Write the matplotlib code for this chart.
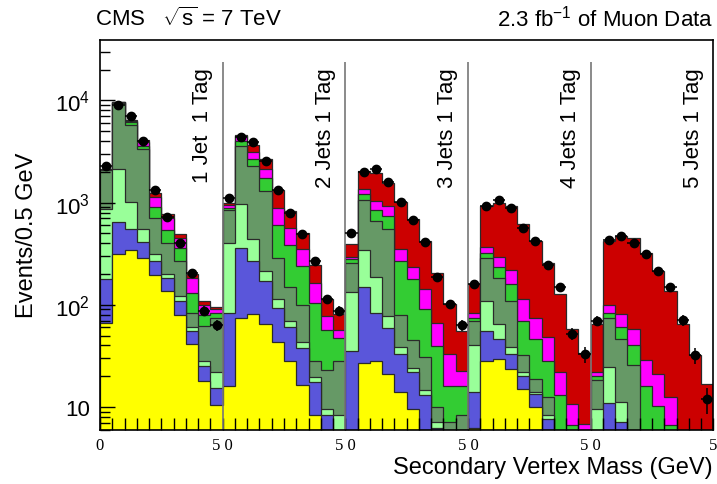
import numpy as np
import matplotlib
matplotlib.use('Agg')
import matplotlib.pyplot as plt
from matplotlib.ticker import FixedLocator, LogLocator, NullFormatter

plt.rcParams['font.family'] = 'Liberation Sans'
plt.rcParams['mathtext.fontset'] = 'custom'
plt.rcParams['mathtext.rm'] = 'Liberation Sans'
plt.rcParams['mathtext.it'] = 'Liberation Sans:italic'

# 5 jet multiplicity bins x 10 mass bins (0-5 GeV, 0.5 GeV wide), stacked bottom -> top
wqx = [67, 313, 344, 284, 195, 135, 79, 41, 18, 10.4,
       16, 75, 81, 65, 43, 28, 16.5, 8.3, 3, 2,
       3, 27, 28, 21, 14, 9.6, 3, 2, 1, 1,
       6.2, 28, 29.5, 23.6, 15, 10, 3, 1, 0.5, 0.5,
       1, 2, 1, 1, 0.5, 0.3, 0.2, 0.1, 0.1, 0.1]
qcd = [111, 332, 204, 131, 73, 48, 30, 15, 7, 4.9,
       68, 282, 187, 105, 50, 32, 21, 9.4, 5.3, 2,
       32, 121, 56, 38, 19, 12.3, 10, 4.3, 1, 1,
       7.8, 27, 16.5, 9.4, 5, 3.5, 4.7, 1, 0.5, 0.5,
       2, 9, 6.1, 1, 0.5, 0.5, 0.3, 0.2, 0.1, 0.1]
zjets = [681, 1464, 463, 133, 45, 17, 13, 4, 3, 6.6,
         316, 619, 169, 44, 21, 10, 5.4, 1.9, 1.3, 4.3,
         99, 194, 105, 19, 6, 2.1, 1.7, 0.8, 1, 1,
         26, 54, 19, 6, 2, 0.5, 0.7, 1, 0.5, 0.5,
         6.5, 13.5, 4.1, 2, 1, 0.5, 0.3, 0.2, 0.1, 0.1]
wcx = [1216, 7391, 4783, 2809, 388, 200, 146, 24, 34, 53,
       445, 2584, 1869, 1081, 176, 78, 56, 8.4, 13.4, 19.7,
       125, 716, 471, 478, 40, 21, 16.3, 2.8, 4.1, 5.4,
       30, 181, 116, 70, 10, 5, 4.1, 1, 1.5, 1,
       9, 49.5, 34.8, 22, 3, 2, 1, 0.5, 0.3, 0.2]
wbx = [15, 80, 306, 257, 203, 136, 95, 46, 17, 9,
       46, 420, 394, 455, 313, 234, 141, 77, 34, 19,
       20, 164, 185, 183, 189, 133, 60, 30, 8.9, 7.6,
       5, 34, 54, 50, 38, 27, 15.5, 9, 3.6, 1.5,
       1.5, 10, 14, 14, 11, 7, 4.8, 2, 1, 0.5]
single_top = [10, 50, 240, 276, 228, 176, 85, 52, 21, 7,
              54, 476, 410, 359, 288, 187, 115, 57, 21, 10,
              18, 123, 190, 185, 87, 57, 51, 27, 17, 6.4,
              8, 47, 62, 59, 45, 29, 20, 9, 4.1, 2.8,
              2, 16, 21, 18, 13, 10.6, 5.9, 2.5, 1.4, 0.8]
ttbar = [15, 50, 140, 180, 98, 55, 42, 17, 8, 5,
         53, 168, 588, 571, 424, 257, 153, 82, 36, 24,
         94, 684, 923, 639, 656, 450, 279, 140, 68, 32.6,
         76, 553, 701, 706, 507, 346, 207, 105, 47, 27,
         43, 321, 390, 390, 295, 194, 124.5, 60, 29, 15]
data = [2270, 9080, 7090, 3980, 1324, 722, 400, 207, 87, 63,
        1116, 4394, 3890, 2580, 1315, 797, 490, 268, 114, 87,
        508, 1985, 2142, 1580, 1011, 672, 410, 189, 102, 63,
        159, 924, 1050, 891, 569, 421, 248, 148, 52, 33,
        70, 428, 471, 406, 317, 213, 148, 71, 32, 12]

panel_labels = ['1 Jet  1 Tag', '2 Jets 1 Tag', '3 Jets 1 Tag', '4 Jets 1 Tag', '5 Jets 1 Tag']
xtick_labels = ['0', '5 0', '5 0', '5 0', '5 0', '5']

components = [wqx, qcd, zjets, wcx, wbx, single_top, ttbar]
colors = ['#ffff00', '#5a56da', '#99ff99', '#669966', '#33cc33', '#ff00ff', '#cc0000']

edges = np.arange(0, 25.01, 0.5)
centers = edges[:-1] + 0.25
stack = np.cumsum(np.array(components, dtype=float), axis=0)
data = np.array(data, dtype=float)

fig = plt.figure(figsize=(7.17, 4.85), dpi=100)
ax = fig.add_axes([100 / 717, 1 - 430.7 / 485, 613.3 / 717, 389.7 / 485])

# draw the cumulative histograms top-down so each lower layer covers the one above
for top, col in reversed(list(zip(stack, colors))):
    ax.stairs(top, edges, baseline=1e-3, fill=True, facecolor=col,
              edgecolor='#2a2a2a', linewidth=0.9, zorder=1)

ax.errorbar(centers, data, yerr=np.sqrt(data), xerr=0.25, fmt='o', color='black',
            ms=6, lw=1.1, capsize=0, zorder=5)

ax.vlines([5, 10, 15, 20], 6, 2.4e4, color='#777777', lw=1.2, zorder=3)
for p, lab in enumerate(panel_labels):
    ax.text(5 * p + 4.18, 2.1e4, lab, rotation=90, ha='center', va='top', fontsize=16)

ax.set_yscale('log')
ax.set_xlim(0, 25)
ax.set_ylim(6, 3.9e4)

ax.yaxis.set_major_locator(FixedLocator([10, 100, 1000, 10000]))
ax.yaxis.set_minor_locator(LogLocator(base=10, subs=np.arange(2, 10)))
ax.yaxis.set_minor_formatter(NullFormatter())
ax.set_yticklabels(['10', r'$\mathregular{10^{2}}$', r'$\mathregular{10^{3}}$', r'$\mathregular{10^{4}}$'])
ax.tick_params(axis='y', which='major', direction='in', length=11, width=1, labelsize=16, pad=7)
ax.tick_params(axis='y', which='minor', direction='in', length=7, width=1)

ax.set_xticks([0, 5, 10, 15, 20, 25])
ax.set_xticks(edges, minor=True)
ax.set_xticklabels(xtick_labels, fontfamily='Liberation Serif', fontsize=12)
ax.tick_params(axis='x', which='both', direction='in', length=8.5, width=1, pad=5)

for s in ax.spines.values():
    s.set_linewidth(1.2)
    s.set_zorder(6)

fig.text(95 / 717, 1 - 26 / 485, r'CMS   $\sqrt{\mathregular{s}}$ = 7 TeV', fontsize=16, ha='left', va='baseline')
fig.text(713 / 717, 1 - 26 / 485, r'2.3 fb$\mathregular{^{-1}}$ of Muon Data', fontsize=16, ha='right', va='baseline')
fig.text(713 / 717, 1 - 468 / 485, 'Secondary Vertex Mass (GeV)', fontsize=17, ha='right', va='center')
fig.text(27 / 717, 1 - 235 / 485, 'Events/0.5 GeV', fontsize=17, rotation=90, ha='center', va='center')

fig.savefig('out.png', dpi=100)
